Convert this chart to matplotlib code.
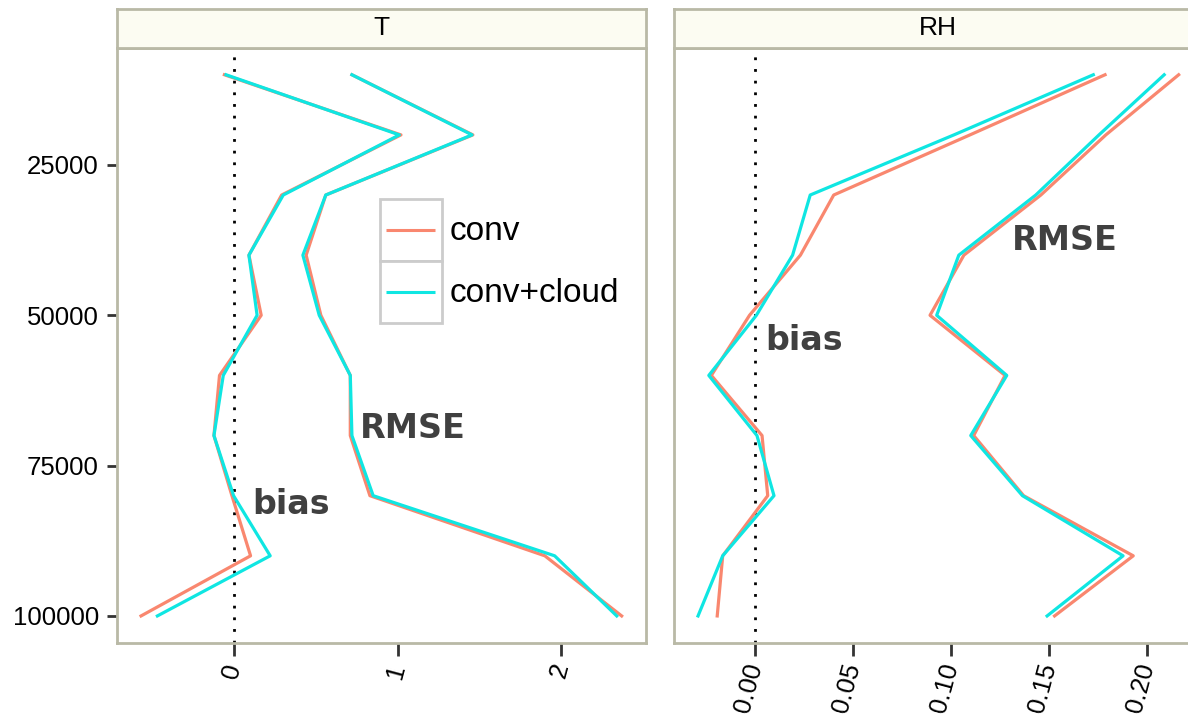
import matplotlib
matplotlib.use('Agg')
import matplotlib.pyplot as plt
from matplotlib.patches import Rectangle
from matplotlib.lines import Line2D
from matplotlib.legend_handler import HandlerLine2D
import numpy as np

plt.rcParams['font.family'] = ['Liberation Sans', 'DejaVu Sans']

# pressure levels (Pa)
levels = [10000, 20000, 30000, 40000, 50000, 60000, 70000, 80000, 90000, 100000]

# T panel
t_bias_conv = [-0.06, 1.02, 0.29, 0.09, 0.165, -0.09, -0.124, -0.014, 0.10, -0.57]
t_bias_cloud = [-0.05, 1.01, 0.30, 0.09, 0.14, -0.067, -0.124, -0.004, 0.22, -0.47]
t_rmse_conv = [0.72, 1.46, 0.56, 0.44, 0.53, 0.71, 0.71, 0.83, 1.90, 2.37]
t_rmse_cloud = [0.72, 1.455, 0.56, 0.42, 0.52, 0.71, 0.72, 0.85, 1.96, 2.34]

# RH panel
rh_bias_conv = [0.1786, 0.1096, 0.040, 0.023, -0.003, -0.0225, 0.0034, 0.0063, -0.0167, -0.0195]
rh_bias_cloud = [0.1726, 0.1014, 0.028, 0.019, 0.0005, -0.0238, 0.0008, 0.0095, -0.0167, -0.0293]
rh_rmse_conv = [0.2162, 0.179, 0.1458, 0.1065, 0.0892, 0.1275, 0.1115, 0.137, 0.193, 0.1528]
rh_rmse_cloud = [0.2088, 0.1755, 0.1432, 0.1039, 0.0926, 0.1284, 0.110, 0.1364, 0.1878, 0.149]

series_names = ['conv', 'conv+cloud']
colors = {'conv': '#F9876F', 'conv+cloud': '#0FE6E2'}

t_xticks = [0, 1, 2]
rh_xticks = [0.00, 0.05, 0.10, 0.15, 0.20]
y_ticks = [25000, 50000, 75000, 100000]

border_col = '#B9B9A6'
text_col = '#404040'


class BoxedKey(HandlerLine2D):
    # ggplot-like legend key: grey square with the line inside
    def create_artists(self, legend, orig_handle, xdescent, ydescent,
                       width, height, fontsize, trans):
        box = Rectangle((-xdescent, -ydescent), width, height, facecolor='white',
                        edgecolor='#CCCCCC', lw=2.0, transform=trans)
        pad = width * 0.11
        yc = -ydescent + height / 2
        ln = Line2D([-xdescent + pad, -xdescent + width - pad], [yc, yc],
                    color=orig_handle.get_color(), lw=2.2, solid_capstyle='butt',
                    transform=trans)
        return [box, ln]


def expand(vals, frac=0.05):
    lo, hi = min(vals), max(vals)
    d = (hi - lo) * frac
    return lo - d, hi + d


fig = plt.figure(figsize=(11.88, 7.17), dpi=100)

W, H = 1188.0, 717.0
ax_w = 528.7 / W
ax_h = (643 - 47.7) / H
ax_b = 1 - 643 / H
strip_h = (47.7 - 9) / H

panels = [
    ('T', 117 / W, t_bias_conv, t_bias_cloud, t_rmse_conv, t_rmse_cloud, t_xticks,
     ['0', '1', '2']),
    ('RH', 674 / W, rh_bias_conv, rh_bias_cloud, rh_rmse_conv, rh_rmse_cloud, rh_xticks,
     ['%.2f' % v for v in rh_xticks]),
]

axes = []
for name, left, b_conv, b_cloud, r_conv, r_cloud, xt, xtl in panels:
    ax = fig.add_axes([left, ax_b, ax_w, ax_h])
    axes.append(ax)
    ax.axvline(0, color='black', lw=2.0, linestyle=(0, (1, 3.2)), zorder=1)
    ax.plot(b_conv, levels, color=colors['conv'], lw=2.3, label='conv', zorder=2)
    ax.plot(r_conv, levels, color=colors['conv'], lw=2.3, zorder=2)
    ax.plot(b_cloud, levels, color=colors['conv+cloud'], lw=2.3, label='conv+cloud', zorder=3)
    ax.plot(r_cloud, levels, color=colors['conv+cloud'], lw=2.3, zorder=3)

    ax.set_xlim(*expand(b_conv + b_cloud + r_conv + r_cloud))
    ax.set_ylim(104500, 5500)
    ax.set_xticks(xt)
    ax.set_xticklabels(xtl, rotation=75, ha='right', va='center', rotation_mode='anchor',
                       fontsize=18.5, color='black')
    ax.tick_params(axis='x', length=9, width=2, color='#333333', pad=6)
    for sp in ax.spines.values():
        sp.set_color(border_col)
        sp.set_linewidth(2)

    # facet strip
    sax = fig.add_axes([left, 1 - 47.7 / H, ax_w, strip_h])
    sax.set_facecolor('#FCFCF2')
    sax.set_xticks([])
    sax.set_yticks([])
    for sp in sax.spines.values():
        sp.set_color(border_col)
        sp.set_linewidth(2)
    sax.text(0.5, 0.5, name, ha='center', va='center', fontsize=19, color='black',
             transform=sax.transAxes)

ax_t, ax_rh = axes
ax_t.set_yticks(y_ticks)
ax_t.set_yticklabels([str(v) for v in y_ticks], fontsize=18.5)
ax_t.tick_params(axis='y', length=7, width=2, color='#333333', pad=6)
ax_rh.set_yticks([])
ax_rh.spines['right'].set_visible(False)

# annotations
ann = dict(fontsize=24, fontweight='bold', color=text_col, ha='center', va='center',
           family='DejaVu Sans')
ax_t.text(1.09, 68900, 'RMSE', **ann)
ax_t.text(0.35, 81500, 'bias', **ann)
ax_rh.text(0.158, 37600, 'RMSE', **ann)
ax_rh.text(0.025, 54200, 'bias', **ann)

# legend
handles = [Line2D([], [], color=colors[n]) for n in series_names]
ax_t.legend(handles, series_names, loc='upper left',
            bbox_to_anchor=(0.4967, 0.7458), frameon=False, fontsize=24,
            handlelength=1.86, handleheight=2.48, handletextpad=0.25,
            labelspacing=0.0, borderpad=0.0, borderaxespad=0.0,
            handler_map={Line2D: BoxedKey()})

fig.savefig('out.png', dpi=100)
